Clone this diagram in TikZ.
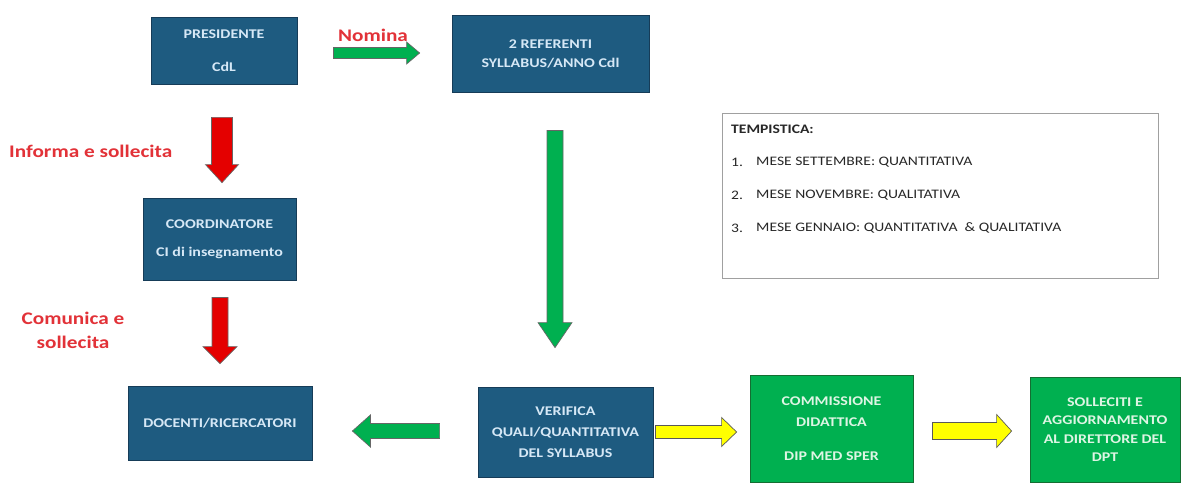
\documentclass[tikz,border=0pt]{standalone}
\usepackage{fontspec}
\setmainfont{Carlito}[FakeStretch=1.2]
\usetikzlibrary{calc}
\definecolor{boxblue}{RGB}{30,91,128}
\definecolor{boxborder}{RGB}{22,60,88}
\definecolor{boxtext}{RGB}{214,232,246}
\definecolor{boxgreen}{RGB}{0,176,80}
\definecolor{greenborder}{RGB}{20,110,50}
\definecolor{greentext}{RGB}{222,245,228}
\definecolor{arrgreen}{RGB}{0,176,80}
\definecolor{arrred}{RGB}{228,0,0}
\definecolor{arryellow}{RGB}{255,255,0}
\definecolor{labred}{RGB}{226,50,56}
\definecolor{temptext}{RGB}{40,40,40}
\definecolor{tempborder}{RGB}{160,160,160}
\newcommand\boxfnt{\fontsize{13.3}{19}\selectfont\bfseries}
\newcommand\labfnt{\fontsize{17.7}{24}\selectfont\bfseries}
\newcommand\tempfnt{\fontsize{13}{16}\selectfont}
\newcommand\blockarrow[6]{%
  \coordinate (ba-h) at ($(#3)!#6!(#2)$);
  \filldraw[#1] ($(#2)!#4!90:(#3)$) -- ($(ba-h)!#4!-90:(#2)$) -- ($(ba-h)!#5!-90:(#2)$) -- (#3)
    -- ($(ba-h)!#5!90:(#2)$) -- ($(ba-h)!#4!90:(#2)$) -- ($(#2)!#4!-90:(#3)$) -- cycle;
}
\begin{document}
\begin{tikzpicture}[x=1pt,y=-1pt,
  bluebox/.style={draw=boxborder, line width=0.8pt, fill=boxblue, text=boxtext, font=\boxfnt, align=center, inner sep=0pt},
  greenbox/.style={draw=greenborder, line width=0.8pt, fill=boxgreen, text=greentext, font=\boxfnt, align=center, inner sep=0pt},
  redlabel/.style={text=labred, font=\labfnt, inner sep=0pt},
  templine/.style={text=temptext, font=\tempfnt, inner sep=0pt, anchor=west},
  greenarrow/.style={fill=arrgreen, draw=black!60, line width=0.7pt, line join=miter},
  redarrow/.style={fill=arrred, draw=black!60, line width=0.7pt, line join=miter},
  yellowarrow/.style={fill=arryellow, draw=black!65, line width=0.7pt, line join=miter}]
\useasboundingbox (0,0) rectangle (1182,484);
\fill[white] (0,0) rectangle (1182,484);

% boxes
\node[bluebox, minimum width=146pt, minimum height=67pt] (pres) at (224,50.5) {PRESIDENTE\\[14pt]CdL};
\node[bluebox, minimum width=197pt, minimum height=77pt] (ref) at (550.5,53.5) {2 REFERENTI\\SYLLABUS/ANNO Cdl};
\node[bluebox, minimum width=153pt, minimum height=82pt] (coord) at (219.5,239) {COORDINATORE\\[9pt]CI di insegnamento};
\node[bluebox, minimum width=184pt, minimum height=74pt] (doc) at (220,423) {DOCENTI/RICERCATORI};
\node[bluebox, minimum width=175pt, minimum height=90pt] (ver) at (565.5,432) {VERIFICA\\[2pt]QUALI/QUANTITATIVA\\[2pt]DEL SYLLABUS};
\node[greenbox, minimum width=163pt, minimum height=107pt] (comm) at (831.5,428.5) {COMMISSIONE\\[2pt]DIDATTICA\\[15pt]DIP MED SPER};
\node[greenbox, minimum width=150pt, minimum height=105pt] (sol) at (1105,429.5) {SOLLECITI E\\[-0.5pt]AGGIORNAMENTO\\[-0.5pt]AL DIRETTORE DEL\\[-0.5pt]DPT};

% tempistica box
\node[draw=tempborder, line width=0.8pt, fill=white, minimum width=436pt, minimum height=165pt, inner sep=0pt] (temp) at (940,195.5) {};
\node[templine, font=\tempfnt\bfseries] (t0) at (731,129) {TEMPISTICA:};
\node[templine] (n1) at (731,162) {1.};
\node[templine] (t1) at (756,162) {MESE SETTEMBRE: QUANTITATIVA};
\node[templine] (n2) at (731,195) {2.};
\node[templine] (t2) at (756,195) {MESE NOVEMBRE: QUALITATIVA};
\node[templine] (n3) at (731,228) {3.};
\node[templine] (t3) at (756,228) {MESE GENNAIO: QUANTITATIVA \ \& QUALITATIVA};

% labels
\node[redlabel] (lnom) at (373,35) {Nomina};
\node[redlabel, anchor=west] (linf) at (9,151) {Informa e sollecita};
\node[redlabel, align=center] (lcom) at (73,330) {Comunica e\\sollecita};

% arrow end points
\coordinate (nomS) at ($(pres.east)+(36,2.5)$);
\coordinate (nomE) at ($(ref.west)+(-32,-0.5)$);
\coordinate (r1S) at ($(pres.south)+(-2,33)$);
\coordinate (r1E) at ($(coord.north)+(2.5,-15)$);
\coordinate (r2S) at ($(coord.south)+(0.5,17)$);
\coordinate (r2E) at ($(doc.north)+(0,-22)$);
\coordinate (gdS) at ($(ref.south)+(4.5,38)$);
\coordinate (gdE) at ($(ver.north)+(-10.5,-39)$);
\coordinate (glS) at ($(ver.west)+(-38,-1)$);
\coordinate (glE) at ($(doc.east)+(40,8)$);
\coordinate (y1S) at ($(ver.east)+(2,0)$);
\coordinate (y1E) at ($(comm.west)+(-13,3.5)$);
\coordinate (y2S) at ($(comm.east)+(19,2.5)$);
\coordinate (y2E) at ($(sol.west)+(-18,1.5)$);

% block arrows
\blockarrow{greenarrow}{nomS}{nomE}{5.5pt}{11pt}{13pt}
\blockarrow{redarrow}{r1S}{r1E}{10.5pt}{16.5pt}{18pt}
\blockarrow{redarrow}{r2S}{r2E}{8pt}{17pt}{17pt}
\blockarrow{greenarrow}{gdS}{gdE}{8pt}{17pt}{25pt}
\blockarrow{greenarrow}{glS}{glE}{7.5pt}{16pt}{18pt}
\blockarrow{yellowarrow}{y1S}{y1E}{6.5pt}{14.5pt}{15pt}
\blockarrow{yellowarrow}{y2S}{y2E}{8.5pt}{16.5pt}{15pt}
\end{tikzpicture}
\end{document}
